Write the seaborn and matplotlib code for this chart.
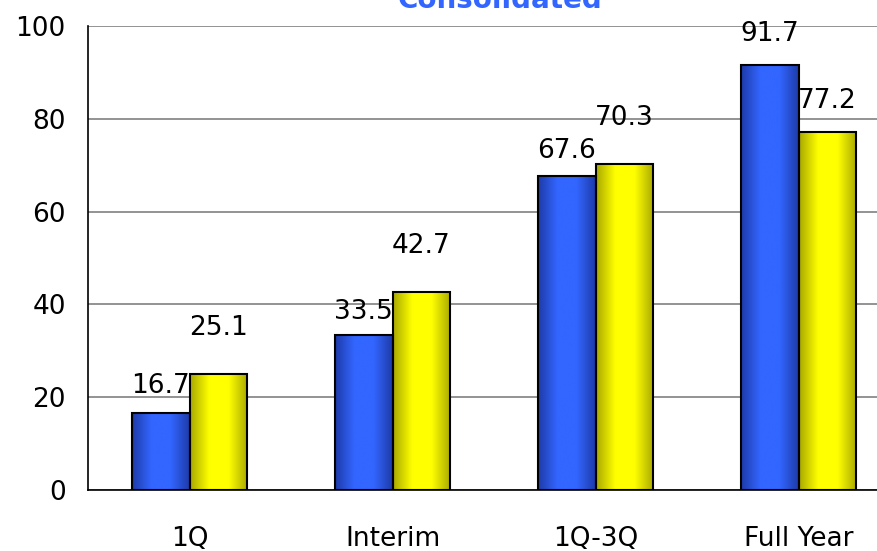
import numpy as np
import pandas as pd
import matplotlib
matplotlib.use("Agg")
import matplotlib.pyplot as plt
from matplotlib.colors import LinearSegmentedColormap
import seaborn as sns

categories = ["1Q", "Interim", "1Q-3Q", "Full Year"]
series_a = [16.7, 33.5, 67.6, 91.7]
series_b = [25.1, 42.7, 70.3, 77.2]
series_names = ["Plan", "Result"]
y_ticks = [0, 20, 40, 60, 80, 100]

df = pd.DataFrame({
    "period": categories * 2,
    "value": series_a + series_b,
    "series": [series_names[0]] * 4 + [series_names[1]] * 4,
})

sns.set_style("white")
plt.rcParams["font.family"] = ["DejaVu Sans"]

fig = plt.figure(figsize=(8.77, 5.51), dpi=100)
ax = fig.add_axes([88 / 877, 61 / 551, 812 / 877, 464 / 551])

sns.barplot(data=df, x="period", y="value", hue="series", order=categories,
            hue_order=series_names, palette=["#3366FF", "#FFFF00"],
            width=0.57, gap=0, edgecolor="black", linewidth=1.5,
            legend=False, ax=ax, zorder=3)

ax.set_ylim(0, 100)
ax.set_xlim(-0.5, 3.5)
ax.set_yticks(y_ticks)
ax.yaxis.grid(True, color="#808080", linewidth=1.2, zorder=0)
ax.set_axisbelow(True)
ax.set_xlabel("")
ax.set_ylabel("")
for s in ["top", "right"]:
    ax.spines[s].set_visible(False)
ax.spines["left"].set_color("black")
ax.spines["bottom"].set_color("black")
ax.spines["left"].set_linewidth(1.2)
ax.spines["bottom"].set_linewidth(1.2)

ax.tick_params(axis="y", length=0, labelsize=19, pad=16, labelcolor="black")
ax.tick_params(axis="x", length=0, labelsize=19, pad=26, labelcolor="black")
# minor ticks between the category groups
ax.set_xticks([0.5, 1.5, 2.5], minor=True)
ax.tick_params(axis="x", which="minor", direction="in", length=8, width=1, color="#404040")

# shaded gradient fill across each bar
grad_maps = [
    LinearSegmentedColormap.from_list("blue_shade", ["#1D3AA8", "#3366FF", "#3366FF", "#1D3AA8"]),
    LinearSegmentedColormap.from_list("yellow_shade", ["#A8A800", "#FFFF00", "#FFFF00", "#A8A800"]),
]
grad = np.linspace(0, 1, 256).reshape(1, -1)
for i, patch in enumerate(ax.patches[:8]):
    cmap = grad_maps[i // 4]
    x0, y0 = patch.get_x(), patch.get_y()
    w, h = patch.get_width(), patch.get_height()
    im = ax.imshow(grad, cmap=cmap, aspect="auto", extent=[x0, x0 + w, y0, y0 + h],
                   zorder=3.5, interpolation="bicubic")
    im.set_clip_path(patch)
    patch.set_facecolor("none")
    patch.set_zorder(4)
ax.set_xlim(-0.5, 3.5)
ax.set_ylim(0, 100)

# value labels
offsets_a = [19, 16, 18, 22]
offsets_b = [33, 33, 33, 22]
for i, patch in enumerate(ax.patches[:8]):
    val = (series_a + series_b)[i]
    off = (offsets_a + offsets_b)[i]
    ax.annotate(f"{val:.1f}", (patch.get_x() + patch.get_width() / 2, val),
                xytext=(0, off), textcoords="offset points", ha="center",
                va="center", fontsize=19, color="black", zorder=5)

fig.text(500 / 877, 1.0, "Consolidated", ha="center", va="center",
         fontsize=20, fontweight="bold", color="#3366FF")

fig.savefig("out.png", dpi=100)
